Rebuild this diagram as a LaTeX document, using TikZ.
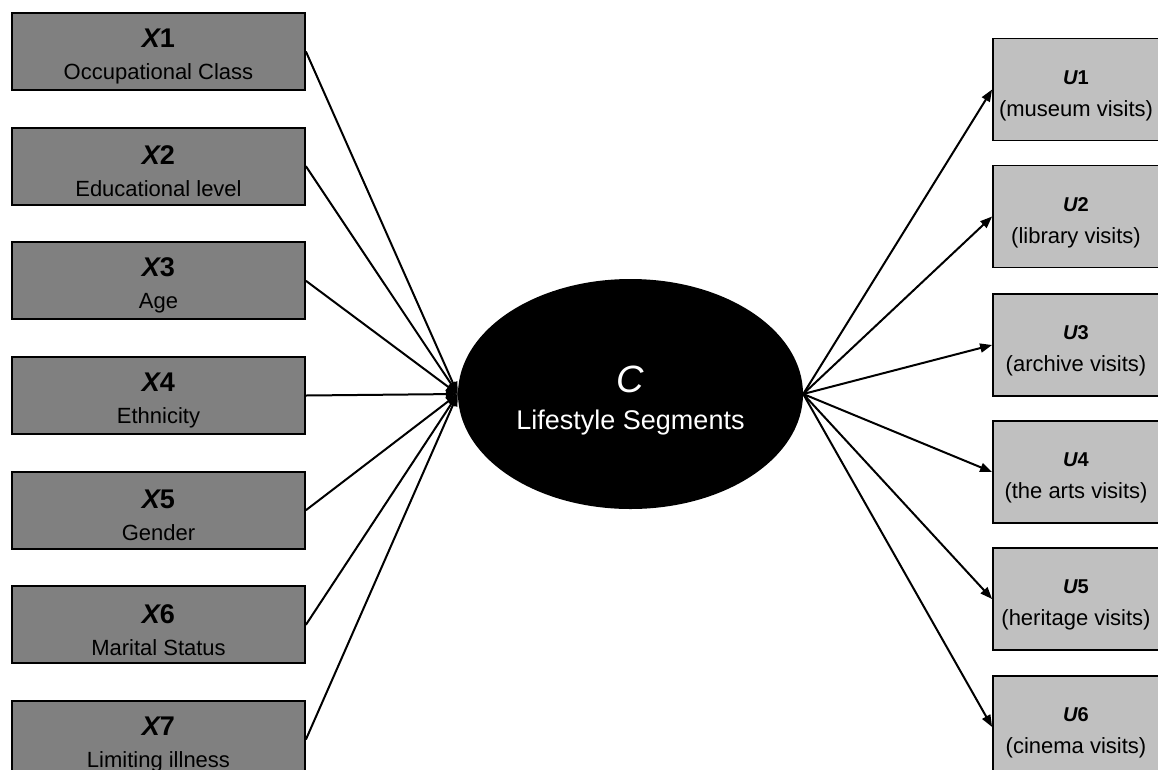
\documentclass[tikz,border=0pt]{standalone}
\usepackage{fontspec}
\setmainfont{Liberation Sans}
\usetikzlibrary{arrows.meta,shapes.geometric}
\definecolor{dgray}{HTML}{808080}
\definecolor{lgray}{HTML}{C0C0C0}
\tikzset{
  xbox/.style={draw=black, line width=1.8pt, fill=dgray, minimum width=293pt, minimum height=77pt, inner sep=0pt},
  ubox/.style={draw=black, line width=1.8pt, fill=lgray, minimum width=166pt, minimum height=102pt, inner sep=0pt},
  xtext/.style={align=center, inner sep=0pt, yshift=-5pt, font=\fontsize{22}{26}\selectfont},
  utext/.style={align=center, inner sep=0pt, yshift=-6pt, font=\fontsize{22}{26}\selectfont},
  conn/.style={line width=2pt, -{Triangle[length=12pt,width=9pt]}},
}
\newcommand{\xtitle}[1]{{\fontsize{27}{30}\selectfont\bfseries\itshape X\upshape #1}\\[6pt]}
\newcommand{\utitle}[1]{{\fontsize{20}{24}\selectfont\bfseries\itshape U\upshape #1}\\[6pt]}
\begin{document}
\begin{tikzpicture}[x=1pt,y=-1pt]
\useasboundingbox (0,0) rectangle (1158,769);
\clip (0,0) rectangle (1158,769);
\node[xbox] (x1) at (158.5,51.5) {};
\node[xbox] (x2) at (158.5,166.2) {};
\node[xbox] (x3) at (158.5,280.8) {};
\node[xbox] (x4) at (158.5,395.5) {};
\node[xbox] (x5) at (158.5,510.2) {};
\node[xbox] (x6) at (158.5,624.8) {};
\node[xbox] (x7) at (158.5,739.5) {};
\node[xtext] (x1t) at (x1) {\xtitle{1}Occupational Class};
\node[xtext] (x2t) at (x2) {\xtitle{2}Educational level};
\node[xtext] (x3t) at (x3) {\xtitle{3}Age};
\node[xtext] (x4t) at (x4) {\xtitle{4}Ethnicity};
\node[xtext] (x5t) at (x5) {\xtitle{5}Gender};
\node[xtext] (x6t) at (x6) {\xtitle{6}Marital Status};
\node[xtext] (x7t) at (x7) {\xtitle{7}Limiting illness};
\node[ellipse, fill=black, minimum width=345pt, minimum height=230pt, inner sep=0pt] (c) at (630.5,394) {};
\node[align=center, text=white, inner sep=0pt, yshift=-7pt, font=\fontsize{27}{30}\selectfont] (ct) at (c) {{\fontsize{38}{40}\selectfont\itshape C}\\[7pt]Lifestyle Segments};
\node[ubox] (u1) at (1076,89.5) {};
\node[ubox] (u2) at (1076,216.5) {};
\node[ubox] (u3) at (1076,345) {};
\node[ubox] (u4) at (1076,472) {};
\node[ubox] (u5) at (1076,599) {};
\node[ubox] (u6) at (1076,727) {};
\node[utext] (u1t) at (u1) {\utitle{1}(museum visits)};
\node[utext] (u2t) at (u2) {\utitle{2}(library visits)};
\node[utext] (u3t) at (u3) {\utitle{3}(archive visits)};
\node[utext] (u4t) at (u4) {\utitle{4}(the arts visits)};
\node[utext] (u5t) at (u5) {\utitle{5}(heritage visits)};
\node[utext] (u6t) at (u6) {\utitle{6}(cinema visits)};
\foreach \i in {1,...,7} \draw[conn] (x\i.east) -- (c.west);
\foreach \i in {1,...,6} \draw[conn] (c.east) -- (u\i.west);
\end{tikzpicture}
\end{document}
